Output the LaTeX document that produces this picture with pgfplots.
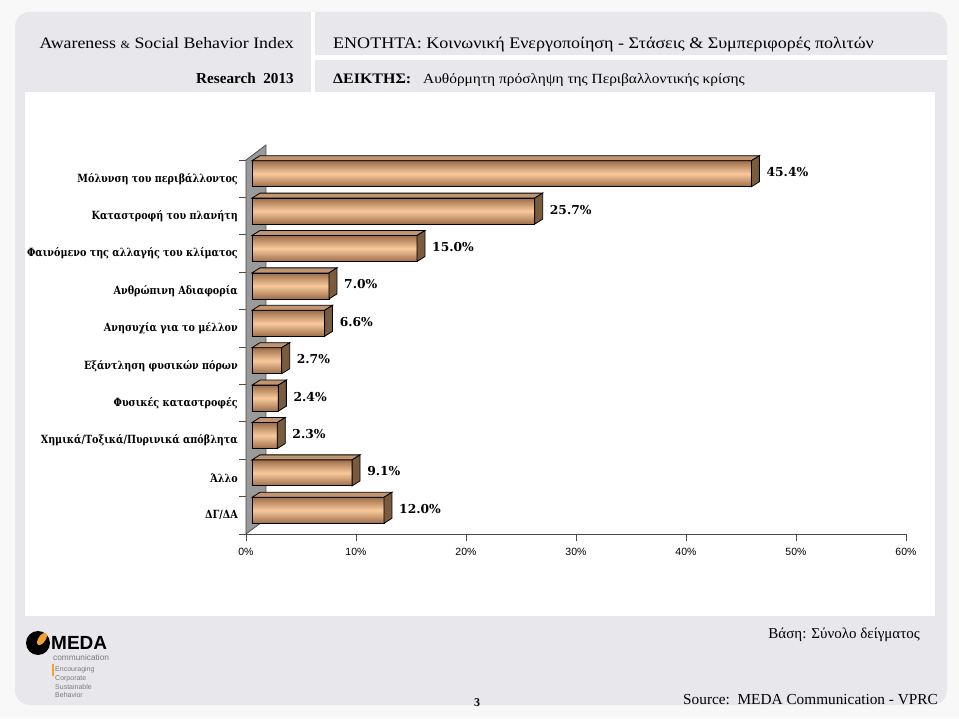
\documentclass[border=0pt]{standalone}
\usepackage{pgfplots}
\pgfplotsset{compat=1.18}
\usepackage{pgfplotstable}
\usepackage{fontspec}
\setmainfont{Liberation Serif}
\newfontfamily\hdrwide[FakeStretch=1.12]{Liberation Serif}
\newfontfamily\hdrmid[FakeStretch=1.1]{Liberation Serif}
\newfontfamily\catfont[FakeStretch=0.85]{DejaVu Serif}
\newfontfamily\valfont{DejaVu Serif}
\newfontfamily\sansf{Liberation Sans}

\definecolor{pagebg}{HTML}{F8F8F8}
\definecolor{framegray}{HTML}{E8E8EC}
\definecolor{barLight}{HTML}{F9C89B}
\definecolor{barDark}{HTML}{9C6E4A}
\definecolor{barTop}{HTML}{C09672}
\definecolor{barSide}{HTML}{7B5B3D}
\definecolor{wallgray}{HTML}{9A9A9A}
\definecolor{mporange}{HTML}{F2A22B}
\definecolor{logogray}{HTML}{7A7A7A}

\pgfplotstableread{
y v
9 45.4
8 25.7
7 15.0
6 7.0
5 6.6
4 2.7
3 2.4
2 2.3
1 9.1
0 12.0
}\datatable

\tikzset{
  frontbar/.style={xbar, bar width=26pt, bar shift=5pt, xshift=6pt, draw=black, line width=0.8pt,
    top color=barDark, bottom color=barDark, middle color=barLight},
  topface/.style={fill=barTop, draw=black, line width=0.8pt},
  sideface/.style={fill=barSide, draw=black, line width=0.8pt},
}

\begin{document}
\begin{tikzpicture}[x=1pt,y=1pt]
% page background and slide frame
\fill[pagebg] (0,0) rectangle (959,718);
\fill[framegray, rounded corners=15pt] (15,13) rectangle (947,706);
\fill[white] (25,102) rectangle (935,626);
% header dividers
\fill[white] (311,626) rectangle (315,706);
\fill[white] (315,658) rectangle (947,663);

% header texts
\node[anchor=base east, inner sep=0pt, font=\hdrwide\fontsize{15.9}{18}\selectfont] at (294,669.5)
  {Awareness {\fontsize{11}{12}\selectfont\&} Social Behavior Index};
\node[anchor=base east, inner sep=0pt, font=\bfseries\fontsize{15.2}{17}\selectfont] at (294,634)
  {Research\ \ 2013};
\node[anchor=base west, inner sep=0pt, font=\hdrwide\fontsize{16.1}{18}\selectfont] at (333,669.5)
  {ΕΝΟΤΗΤΑ: Κοινωνική Ενεργοποίηση - Στάσεις \& Συμπεριφορές πολιτών};
\node[anchor=base west, inner sep=0pt, font=\hdrmid\bfseries\fontsize{14.5}{17}\selectfont] at (333,634)
  {ΔΕΙΚΤΗΣ:};
\node[anchor=base west, inner sep=0pt, font=\hdrmid\fontsize{14}{17}\selectfont] at (423,634)
  {Αυθόρμητη πρόσληψη της Περιβαλλοντικής κρίσης};

% footer texts
\node[anchor=base east, inner sep=0pt, font=\fontsize{15}{17}\selectfont] at (920,79)
  {Βάση: Σύνολο δείγματος};
\node[anchor=base east, inner sep=0pt, font=\fontsize{15.3}{17}\selectfont] at (938,14)
  {Source:\ \ MEDA Communication - VPRC};
\node[anchor=base, inner sep=0pt, font=\bfseries\fontsize{12}{14}\selectfont] at (477,12) {3};

% logo
\fill[black] (38,75) circle (12);
\fill[mporange, rotate around={-35:(42,79)}] (42,79) ellipse (3.5 and 7);
\node[anchor=base west, inner sep=0pt, font=\sansf\bfseries\fontsize{19}{20}\selectfont] at (51,68) {MEDA};
\node[anchor=base west, inner sep=0pt, text=logogray, font=\sansf\fontsize{8.3}{9}\selectfont] at (53,57) {communication};
\fill[mporange] (52,42) rectangle (53.6,54);
\node[anchor=base west, inner sep=0pt, text=logogray, font=\sansf\fontsize{7}{8}\selectfont] at (55,46) {Encouraging};
\node[anchor=base west, inner sep=0pt, text=logogray, font=\sansf\fontsize{7}{8}\selectfont] at (55,37.5) {Corporate};
\node[anchor=base west, inner sep=0pt, text=logogray, font=\sansf\fontsize{7}{8}\selectfont] at (55,29) {Sustainable};
\node[anchor=base west, inner sep=0pt, text=logogray, font=\sansf\fontsize{7}{8}\selectfont] at (55,20.5) {Behavior};

\begin{axis}[
  at={(246pt,184pt)}, anchor=south west,
  scale only axis, width=660pt, height=374pt,
  xmin=0, xmax=60, ymin=-0.5, ymax=9.5,
  clip=false,
  axis x line*=bottom, axis y line*=left,
  axis line style={draw=black!70, line width=0.8pt},
  tick style={draw=black!70, line width=0.8pt},
  tick align=outside, major tick length=7pt,
  xtick={0,10,...,60},
  xticklabel={\pgfmathprintnumber{\tick}\%},
  xticklabel style={font=\sansf\fontsize{10.5}{12}\selectfont, /pgf/number format/assume math mode=true, yshift=-3.5pt},
  ytick={-0.5,0.5,...,9.5},
  y tick label as interval,
  yticklabels={ΔΓ/ΔΑ, Άλλο, Χημικά/Τοξικά/Πυρινικά απόβλητα, Φυσικές καταστροφές, Εξάντληση φυσικών πόρων, Ανησυχία για το μέλλον, Ανθρώπινη Αδιαφορία, Φαινόμενο της αλλαγής του κλίματος, Καταστροφή του πλανήτη, Μόλυνση του περιβάλλοντος},
  yticklabel style={font=\catfont\bfseries\fontsize{11.3}{14}\selectfont, anchor=east, inner sep=0pt, xshift=-1pt},
]
% side wall
\fill[wallgray, draw=black!70, line width=0.8pt]
  (axis cs:0,-0.5) -- (axis cs:0,9.5) -- ([shift={(20pt,15pt)}]axis cs:0,9.5) -- ([shift={(20pt,15pt)}]axis cs:0,-0.5) -- cycle;

% bars: front face (xbar), top face and side face, one bar per table row
\pgfplotsinvokeforeach{0,...,9}{%
  \pgfplotstablegetelem{#1}{v}\of\datatable \let\vv\pgfplotsretval
  \pgfplotstablegetelem{#1}{y}\of\datatable \let\yy\pgfplotsretval
  \pgfmathsetmacro\xa{\vv+0.5455}%
  \pgfmathsetmacro\xb{\vv+1.2727}%
  \pgfmathsetmacro\ya{\yy-0.2139}%
  \pgfmathsetmacro\yb{\yy+0.4813}%
  \pgfmathsetmacro\yc{\yy+0.6150}%
  \pgfmathsetmacro\yd{\yy-0.0802}%
  \edef\barcmd{%
    \noexpand\addplot[frontbar] coordinates {(\vv,\yy)};
    \noexpand\addplot[topface] coordinates {(0.5455,\yb) (\xa,\yb) (\xb,\yc) (1.2727,\yc)} -- cycle;
    \noexpand\addplot[sideface] coordinates {(\xa,\ya) (\xa,\yb) (\xb,\yc) (\xb,\yd)} -- cycle;
  }\barcmd
}

% value labels
\addplot[draw=none, mark=none, point meta=x,
  /pgf/number format/assume math mode=true,
  nodes near coords={\pgfmathprintnumber[fixed,fixed zerofill,precision=1]{\pgfplotspointmeta}\%},
  nodes near coords align={horizontal},
  every node near coord/.append style={anchor=west, xshift=21pt, yshift=6.5pt, inner sep=0pt,
    font=\valfont\bfseries\fontsize{12.3}{14}\selectfont, text=black},
] table[x=v, y=y] {\datatable};
\end{axis}
\end{tikzpicture}
\end{document}
